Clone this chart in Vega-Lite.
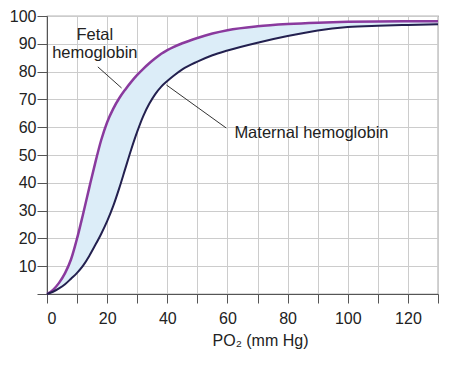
{
  "$schema": "https://vega.github.io/schema/vega-lite/v6.json",
  "width": 391,
  "height": 278,
  "autosize": "none",
  "padding": {"left": 47, "top": 16, "right": 24, "bottom": 72},
  "background": "white",
  "config": {
    "view": {"stroke": "#6e6e6e", "strokeWidth": 1.2},
    "font": "Liberation Sans",
    "axis": {"labelFont": "Liberation Sans", "titleFont": "Liberation Sans", "labelColor": "#222", "titleColor": "#222", "labelFontSize": 16, "titleFontSize": 16, "titleFontWeight": "normal", "domainColor": "#555", "tickColor": "#555", "gridColor": "#cccccc", "gridWidth": 1, "labelOverlap": false}
  },
  "datasets": {
    "curves": [
      {"P": 0, "fetal": 0, "maternal": 0},
      {"P": 2, "fetal": 1.5, "maternal": 0.8},
      {"P": 4, "fetal": 4, "maternal": 2},
      {"P": 6, "fetal": 7.5, "maternal": 3.5},
      {"P": 8, "fetal": 12.5, "maternal": 5.5},
      {"P": 10, "fetal": 20, "maternal": 7.6},
      {"P": 12, "fetal": 28.8, "maternal": 10.2},
      {"P": 14, "fetal": 38, "maternal": 13.6},
      {"P": 16, "fetal": 47, "maternal": 17.5},
      {"P": 18, "fetal": 55.3, "maternal": 21.6},
      {"P": 20, "fetal": 61.8, "maternal": 26.2},
      {"P": 22, "fetal": 66.6, "maternal": 31.6},
      {"P": 24, "fetal": 70.4, "maternal": 38},
      {"P": 26, "fetal": 73.5, "maternal": 45},
      {"P": 28, "fetal": 76.3, "maternal": 52},
      {"P": 30, "fetal": 78.8, "maternal": 58.4},
      {"P": 32, "fetal": 81, "maternal": 64},
      {"P": 34, "fetal": 83, "maternal": 68.4},
      {"P": 36, "fetal": 84.8, "maternal": 71.9},
      {"P": 38, "fetal": 86.4, "maternal": 74.6},
      {"P": 40, "fetal": 87.7, "maternal": 76.6},
      {"P": 42, "fetal": 88.8, "maternal": 78.4},
      {"P": 45, "fetal": 90.2, "maternal": 80.8},
      {"P": 50, "fetal": 92.1, "maternal": 83.6},
      {"P": 55, "fetal": 93.7, "maternal": 85.9},
      {"P": 60, "fetal": 94.9, "maternal": 87.6},
      {"P": 70, "fetal": 96.3, "maternal": 90.4},
      {"P": 80, "fetal": 97.1, "maternal": 92.8},
      {"P": 90, "fetal": 97.6, "maternal": 94.8},
      {"P": 100, "fetal": 97.9, "maternal": 96},
      {"P": 110, "fetal": 98, "maternal": 96.5},
      {"P": 120, "fetal": 98.1, "maternal": 96.8},
      {"P": 130, "fetal": 98.1, "maternal": 97}
    ],
    "fetalLabel": [
      {"P": 15.9, "S": 93.2, "text": "Fetal"},
      {"P": 15.9, "S": 86.7, "text": "hemoglobin"}
    ],
    "maternalLabel": [
      {"P": 62.3, "S": 57.9, "text": "Maternal hemoglobin"}
    ],
    "pointers": [
      {"x1": 16.9, "y1": 81.7, "x2": 24.8, "y2": 74.1},
      {"x1": 39.7, "y1": 75.2, "x2": 59.6, "y2": 59.7}
    ]
  },
  "layer": [
    {
      "data": {"name": "curves"},
      "mark": {"type": "area", "color": "#dcedf8", "interpolate": "monotone"},
      "encoding": {
        "x": {"field": "P", "type": "quantitative", "scale": {"domain": [0, 130], "nice": false},
          "axis": {"tickCount": 13, "labelExpr": "datum.value % 20 === 0 && datum.value <= 120 ? datum.label : ''", "tickSize": 9, "labelPadding": 7, "title": "PO₂ (mm Hg)", "titlePadding": 6, "titleX": 213, "grid": true}},
        "y": {"field": "fetal", "type": "quantitative", "scale": {"domain": [0, 100], "nice": false},
          "axis": {"tickCount": 10, "labelExpr": "datum.value === 0 ? '' : datum.label", "tickSize": 10, "labelPadding": 1, "title": null, "grid": true}},
        "y2": {"field": "maternal"}
      }
    },
    {
      "data": {"name": "curves"},
      "mark": {"type": "line", "color": "#8a3a9e", "strokeWidth": 2.5, "interpolate": "monotone"},
      "encoding": {"x": {"field": "P", "type": "quantitative"}, "y": {"field": "fetal", "type": "quantitative"}}
    },
    {
      "data": {"name": "curves"},
      "mark": {"type": "line", "color": "#23204f", "strokeWidth": 2, "interpolate": "monotone"},
      "encoding": {"x": {"field": "P", "type": "quantitative"}, "y": {"field": "maternal", "type": "quantitative"}}
    },
    {
      "data": {"name": "pointers"},
      "mark": {"type": "rule", "color": "#333", "strokeWidth": 1},
      "encoding": {
        "x": {"field": "x1", "type": "quantitative"}, "y": {"field": "y1", "type": "quantitative"},
        "x2": {"field": "x2"}, "y2": {"field": "y2"}
      }
    },
    {
      "data": {"name": "fetalLabel"},
      "mark": {"type": "text", "fontSize": 16.5, "color": "#222", "baseline": "middle", "align": "center"},
      "encoding": {
        "x": {"field": "P", "type": "quantitative"}, "y": {"field": "S", "type": "quantitative"},
        "text": {"field": "text"}
      }
    },
    {
      "data": {"name": "maternalLabel"},
      "mark": {"type": "text", "fontSize": 16.5, "color": "#222", "baseline": "middle", "align": "left"},
      "encoding": {
        "x": {"field": "P", "type": "quantitative"}, "y": {"field": "S", "type": "quantitative"},
        "text": {"field": "text"}
      }
    }
  ]
}
